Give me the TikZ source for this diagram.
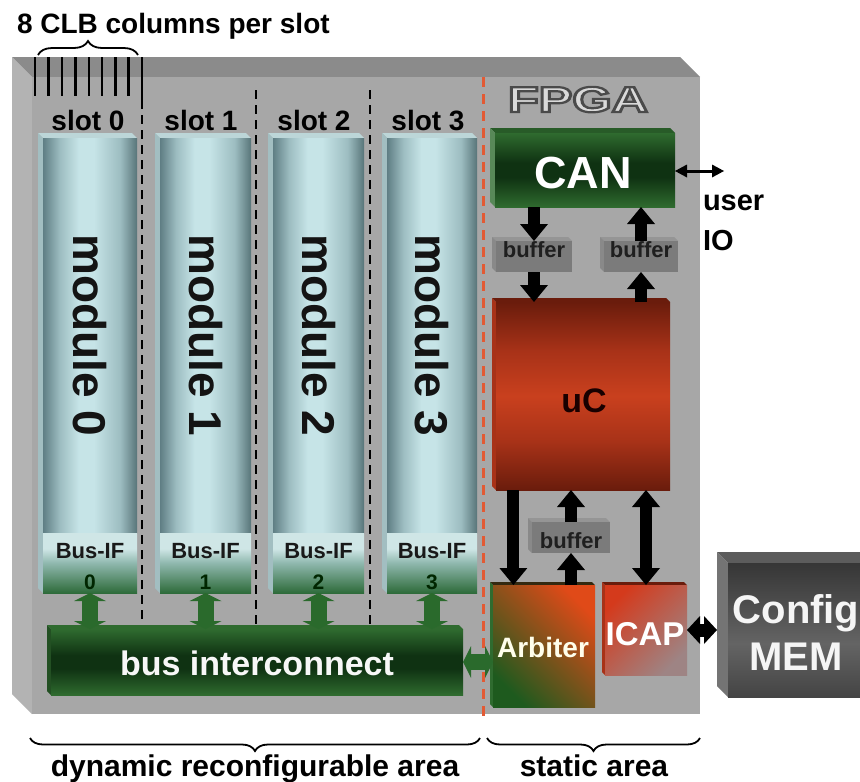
\documentclass[tikz,border=0pt]{standalone}
\usepackage{graphicx}
\usepackage{fontspec}
\setmainfont{Liberation Sans}
\usetikzlibrary{arrows.meta,calc,decorations.pathreplacing}

\definecolor{fpgafront}{HTML}{A7A7A7}
\definecolor{fpgatop}{HTML}{8B8B8B}
\definecolor{fpgaside}{HTML}{B3B3B3}
\definecolor{cylA}{HTML}{5F7E84}
\definecolor{cylB}{HTML}{9DBDC1}
\definecolor{cylC}{HTML}{C6E4E7}
\definecolor{cylD}{HTML}{587579}
\definecolor{cyltop}{HTML}{BCD6D8}
\definecolor{cylside}{HTML}{A2BEC1}
\definecolor{bifT}{HTML}{CFE6E6}
\definecolor{bifM}{HTML}{8FB8AE}
\definecolor{bifB}{HTML}{2E6B3A}
\definecolor{grnL}{HTML}{2F6B2F}
\definecolor{grnD}{HTML}{0F3212}
\definecolor{redD}{HTML}{6A1C0C}
\definecolor{redM}{HTML}{A83218}
\definecolor{redL}{HTML}{C9401E}
\definecolor{memD}{HTML}{363636}
\definecolor{memL}{HTML}{646464}
\definecolor{memtop}{HTML}{5C5C5C}
\definecolor{memside}{HTML}{747474}
\definecolor{buffront}{HTML}{7B7B7B}
\definecolor{buftop}{HTML}{959595}
\definecolor{bufside}{HTML}{898989}
\definecolor{arrowgreen}{HTML}{2A6A2C}
\definecolor{divred}{HTML}{E25A34}
\definecolor{arbTop}{HTML}{E04A18}
\definecolor{arbMid}{HTML}{8E5222}
\definecolor{arbBot}{HTML}{1E5A1E}
\definecolor{icapTop}{HTML}{D43A1C}
\definecolor{icapBot}{HTML}{9E8484}

% colour profiles for the blocks
\pgfdeclarehorizontalshading{cylshade}{100bp}{color(0bp)=(cylA); color(25bp)=(cylA); color(34bp)=(cylB); color(44bp)=(cylC); color(52bp)=(cylC); color(66bp)=(cylB); color(75bp)=(cylD); color(100bp)=(cylD)}
\pgfdeclareverticalshading{bifshade}{100bp}{color(0bp)=(bifB); color(25bp)=(bifB); color(50bp)=(bifM); color(62bp)=(bifT); color(100bp)=(bifT)}
\pgfdeclareverticalshading{greenbar}{100bp}{color(0bp)=(grnL); color(25bp)=(grnL); color(45bp)=(grnD); color(55bp)=(grnD); color(75bp)=(grnL); color(100bp)=(grnL)}
\pgfdeclareverticalshading{redblock}{100bp}{color(0bp)=(redD); color(25bp)=(redD); color(38bp)=(redM); color(50bp)=(redL); color(62bp)=(redM); color(75bp)=(redD); color(100bp)=(redD)}
\pgfdeclareverticalshading{memblock}{100bp}{color(0bp)=(memD!70!memL); color(25bp)=(memD!70!memL); color(45bp)=(memL); color(75bp)=(memD); color(100bp)=(memD)}

% top and left faces of a box seen from above left:
% #1 x1, #2 y1, #3 x2, #4 y2, #5 depth, #6 top colour, #7 side colour
\newcommand\facets[7]{%
  \fill[#6] (#1,#2) -- (#3-#5,#2) -- (#3,#2+#5) -- (#1+#5,#2+#5) -- cycle;
  \fill[#7] (#1,#2) -- (#1+#5,#2+#5) -- (#1+#5,#4) -- (#1,#4-#5) -- cycle;}

% light lettering with a dark rim (fill, then stroke the glyph outlines)
\newcommand\rimmed[1]{%
  \special{pdf:literal direct 2 Tr 2.2 w 0.29 0.29 0.29 RG 0.85 0.85 0.85 rg}%
  #1%
  \special{pdf:literal direct 0 Tr 0 0 0 RG 0 0 0 rg}}

\begin{document}
\begin{tikzpicture}[x=1pt, y=-1pt,
  face/.style={rectangle, inner sep=0pt, outer sep=0pt, anchor=north west},
  lbl/.style={inner sep=0pt, outer sep=0pt, anchor=base, font=\fontsize{#1}{#1}\selectfont\bfseries},
  bshaft/.style={line width=12pt, draw=black},
  arrowone/.style={-{Triangle[width=28pt,length=17pt,line width=0pt]}},
  arrowtwo/.style={{Triangle[width=28pt,length=17pt,line width=0pt]}-{Triangle[width=28pt,length=17pt,line width=0pt]}},
  gshaft/.style={line width=16pt, draw=arrowgreen},
  gboth/.style={{Triangle[width=32pt,length=8pt,line width=0pt]}-{Triangle[width=32pt,length=8pt,line width=0pt]}},
  bracepen/.style={line width=1.8pt, decorate, decoration={brace, amplitude=#1}},
  slotline/.style={line width=2.8pt, dash pattern=on 9pt off 6pt},
]
\useasboundingbox (0,0) rectangle (860,782);
\fill[white] (0,0) rectangle (860,782);

% FPGA body
\facets{12}{57}{700}{714}{20}{fpgatop}{fpgaside}
\node[face, fill=fpgafront, minimum width=668pt, minimum height=637pt] (fpga) at (32,77) {};

% CLB column marks and their brace
\foreach \tx in {35,48.5,62,75.5,89,102,115.5,128.5}
  \draw[line width=2.4pt] (\tx,57) -- (\tx,96);
\draw[line width=2.4pt] (142,57) -- (142,100);
\draw[bracepen=14pt] (38,55) -- (138,55);
\node[lbl=28, anchor=base west] (clbnote) at (17,33) {8 CLB columns per slot};

% slot borders
\foreach \sx/\sy in {142/100,256/90,370/90}
  \draw[slotline] (\sx,\sy) -- (\sx,625);
\draw[divred, line width=3pt, dash pattern=on 10pt off 7pt] (483,77) -- (483,722);

% slot names
\foreach \i/\cx in {0/88,1/201,2/314,3/428}
  \node[lbl=28] (slot\i) at (\cx,130) {slot \i};

% bus interconnect
\facets{47}{625}{463}{695}{4}{grnL}{grnL!75!black}
\node[face, shade, shading=greenbar, minimum width=412pt, minimum height=66pt] (bus) at (51,629) {};
\node[lbl=34, text=white!94!gray] (bustxt) at ($(bus.center)+(0,13)$) {bus interconnect};

% reconfigurable modules with their bus interfaces
\foreach \i/\xa/\xb in {0/38/137, 1/155/251, 2/268/364, 3/382/477} {
  \facets{\xa}{133}{\xb}{593}{5}{cyltop}{cylside}
  \node[face, shade, shading=cylshade, minimum width={(\xb-\xa-5)*1pt}, minimum height=395pt] (mod\i) at (\xa+5,138) {};
  \node[face, shade, shading=bifshade, minimum width={(\xb-\xa-5)*1pt}, minimum height=60pt] (bif\i) at (\xa+5,533) {};
  \node[lbl=46, anchor=center, rotate=-90, text=black!92] (modtxt\i) at (mod\i.center) {module \i};
  \node[lbl=22, text=black!90] (biftxt\i) at ($(bif\i.north)+(0,25)$) {Bus-IF};
  \node[lbl=21, text=black!85!green] (bifnum\i) at ($(bif\i.north)+(0,56)$) {\i};
  \draw[gshaft, gboth] (bif\i.south) -- (bif\i.south |- bus.north);
}

% FPGA label
\node[lbl=36] (fpgatxt) at (578,112) {\scalebox{1.4}[1]{\rimmed{FPGA}}};

% CAN controller
\facets{490}{128}{675}{207}{5}{grnL!85!black}{grnL!80!white}
\node[face, shade, shading=greenbar, minimum width=180pt, minimum height=74pt] (can) at (495,133) {};
\node[lbl=45, text=white] (cantxt) at (583,188) {CAN};

% user IO
\coordinate (uio) at (724,171);
\draw[line width=3pt, {Triangle[width=13pt,length=12pt,line width=0pt]}-{Triangle[width=13pt,length=12pt,line width=0pt]}] (can.east |- uio) -- (uio);
\node[lbl=29, anchor=base west] (usertxt) at (703,210) {user};
\node[lbl=29, anchor=base west] (iotxt) at (703,250) {IO};

% buffers
\facets{492}{237}{572}{272}{4}{buftop}{bufside}
\node[face, fill=buffront, minimum width=76pt, minimum height=31pt] (bufL) at (496,241) {};
\node[lbl=22, text=black!88] (bufLtxt) at (534,257) {buffer};
\facets{600}{237}{678}{272}{4}{buftop}{bufside}
\node[face, fill=buffront, minimum width=74pt, minimum height=31pt] (bufR) at (604,241) {};
\node[lbl=22, text=black!88] (bufRtxt) at (641,257) {buffer};
\facets{528}{518}{610}{553}{4}{buftop}{bufside}
\node[face, fill=buffront, minimum width=78pt, minimum height=31pt] (bufM) at (532,522) {};
\node[lbl=22, text=black!88] (bufMtxt) at (571,548) {buffer};

% micro controller
\facets{492}{298}{670}{490}{4}{redD}{redM}
\node[face, shade, shading=redblock, minimum width=174pt, minimum height=188pt] (uc) at (496,302) {};
\node[lbl=34, text=black!90!red] (uctxt) at (584,412) {uC};

% arbiter
\facets{490}{582}{595}{707}{3}{grnD!60!redD}{grnL}
\node[face, shade, top color=arbTop, middle color=arbMid, bottom color=arbBot, shading angle=-45, minimum width=102pt, minimum height=122pt] (arb) at (493,585) {};
\node[lbl=28, text=white!92!yellow] (arbtxt) at (543,657) {Arbiter};

% ICAP
\facets{602}{582}{687}{675}{3}{redD}{redM}
\node[face, shade, top color=icapTop, bottom color=icapBot, shading angle=45, minimum width=82pt, minimum height=90pt] (icap) at (605,585) {};
\node[lbl=33, text=white] (icaptxt) at (645,645) {ICAP};

% configuration memory
\facets{717}{552}{875}{697}{11}{memtop}{memside}
\node[face, shade, shading=memblock, minimum width=147pt, minimum height=134pt] (cfg) at (728,563) {};
\node[lbl=40, text=white!92!gray] (cfgtxt1) at (796,623) {Config};
\node[lbl=40, text=white!92!gray] (cfgtxt2) at (796,670) {MEM};

% data paths of the static area
\draw[bshaft, arrowone] (bufL.north |- can.south) -- (bufL.north);
\draw[bshaft, arrowone] (bufL.south) -- (bufL.south |- uc.north);
\draw[bshaft, arrowone] (bufR.south |- uc.north) -- (bufR.south);
\draw[bshaft, arrowone] (bufR.north) -- (bufR.north |- can.south);
\coordinate (arbIn) at ($(arb.north west)!0.2!(arb.north east)$);
\draw[bshaft, arrowone] (arbIn |- uc.south) -- (arbIn);
\draw[bshaft, arrowone] (bufM.south |- arb.north) -- (bufM.south);
\draw[bshaft, arrowone] (bufM.north) -- (bufM.north |- uc.south);
\draw[bshaft, arrowtwo] (icap.north |- uc.south) -- (icap.north);
\draw[line width=13pt, {Triangle[width=28pt,length=13pt,line width=0pt]}-{Triangle[width=28pt,length=13pt,line width=0pt]}] (icap.east) -- ([xshift=-11pt]cfg.west);
\draw[gshaft, gboth] (bus.east) -- (bus.east -| arb.west);

% area braces
\draw[bracepen=13pt] (480,738) -- (30,738);
\draw[bracepen=13pt] (700,738) -- (487,738);
\node[lbl=30] (dyntxt) at (255,776) {dynamic reconfigurable area};
\node[lbl=30] (stattxt) at (594,776) {static area};
\end{tikzpicture}
\end{document}
